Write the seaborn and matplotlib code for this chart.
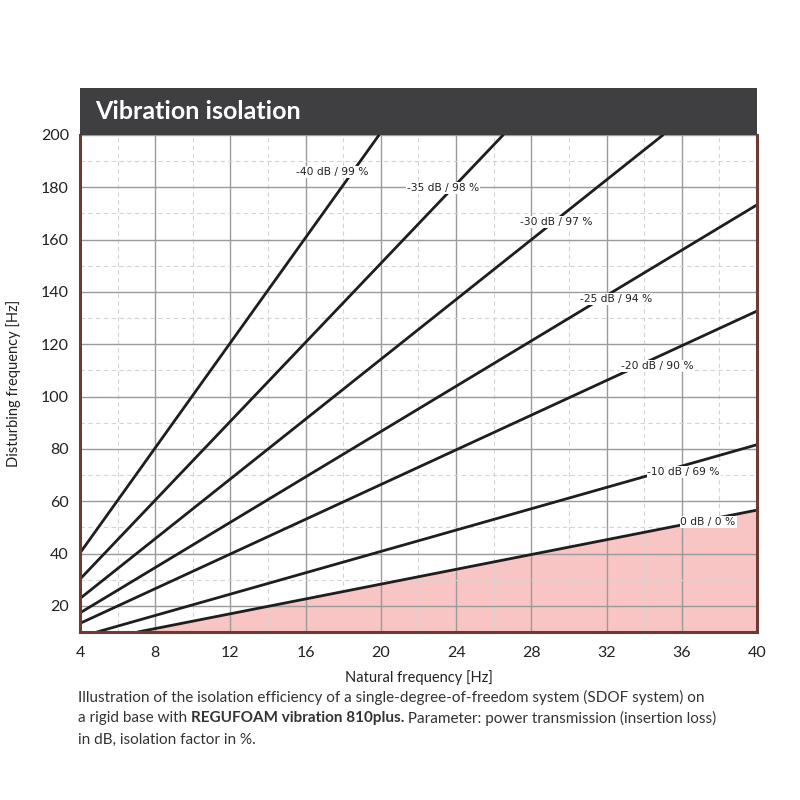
import matplotlib
matplotlib.use("Agg")
import matplotlib.pyplot as plt
import seaborn as sns
import pandas as pd
from matplotlib.patches import Rectangle

# ---- data ----
labels = ["-40 dB / 99 %", "-35 dB / 98 %", "-30 dB / 97 %", "-25 dB / 94 %",
          "-20 dB / 90 %", "-10 dB / 69 %", "0 dB / 0 %"]
nat_start = [4.0, 4.0, 4.0, 4.0, 4.0, 4.9, 7.07]
dist_start = [40.2, 30.2, 22.8, 17.3, 13.3, 10.0, 10.0]
nat_end = [19.9, 26.5, 35.0, 40.0, 40.0, 40.0, 40.0]
dist_end = [200.0, 200.0, 200.0, 173.3, 132.7, 81.6, 56.6]
label_x = [17.4, 23.3, 29.3, 32.5, 34.7, 36.1, 37.4]
label_y = [185.9, 179.7, 166.8, 137.3, 111.7, 71.2, 52.1]

x_ticks = [4, 8, 12, 16, 20, 24, 28, 32, 36, 40]
y_ticks = [20, 40, 60, 80, 100, 120, 140, 160, 180, 200]

rows = []
for lab, x0, y0, x1, y1 in zip(labels, nat_start, dist_start, nat_end, dist_end):
    rows.append({"series": lab, "natural": x0, "disturbing": y0})
    rows.append({"series": lab, "natural": x1, "disturbing": y1})
df = pd.DataFrame(rows)

sns.set_theme(style="white")
plt.rcParams["font.family"] = ["Lato", "DejaVu Sans"]

fig = plt.figure(figsize=(8, 8), dpi=100)
ax = fig.add_axes([0.1, 0.21, 0.84625, 0.62125])

spine_c = "#6d3a34"

# pink region below 0 dB line
zero = df[df["series"] == labels[-1]]
ax.fill_between(zero["natural"], zero["disturbing"], 10, color="#f8c4c4", zorder=1, lw=0)

sns.lineplot(data=df, x="natural", y="disturbing", hue="series",
             palette=["#1e1e1e"] * len(labels), estimator=None, legend=False,
             lw=2.0, ax=ax, zorder=3)

for lab, lx, ly in zip(labels, label_x, label_y):
    ax.text(lx, ly, lab, ha="center", va="center", fontsize=7.7,
            family=["DejaVu Sans"], color="#222222", zorder=4,
            bbox=dict(facecolor="white", edgecolor="none", pad=0.6))

ax.set_xlim(4, 40)
ax.set_ylim(10, 200)
ax.set_xticks(x_ticks)
ax.set_yticks(y_ticks)
ax.set_xticks(list(range(6, 40, 4)), minor=True)
ax.set_yticks(list(range(10, 200, 20)), minor=True)
ax.grid(which="major", color="#9a9a9a", lw=1.0, zorder=2)
ax.grid(which="minor", color="#d4d4d4", lw=0.8, ls=(0, (4, 3)), zorder=2)
ax.set_axisbelow(False)

ax.tick_params(axis="both", which="both", length=0, labelsize=11.5, colors="#222222", pad=8)
ax.tick_params(axis="x", pad=10)
for s in ["left", "bottom", "right"]:
    ax.spines[s].set_color(spine_c)
    ax.spines[s].set_linewidth(2.2)
    ax.spines[s].set_zorder(5)
ax.spines["top"].set_visible(False)

ax.set_xlabel("Natural frequency [Hz]", fontsize=10.5, color="#222222", labelpad=7)
ax.set_ylabel("Disturbing frequency [Hz]", fontsize=10.5, color="#222222", labelpad=14)

# title bar
fig.patches.append(Rectangle((0.1, 0.83125), 0.84625, 0.059, transform=fig.transFigure,
                             facecolor="#3f3f41", edgecolor="none", zorder=0))
fig.text(0.119, 0.861, "Vibration isolation", color="white", fontsize=18,
         fontweight="bold", va="center", ha="left")

# caption
cap_fs = 11.0
fig.text(0.097, 0.128, "Illustration of the isolation efficiency of a single-degree-of-freedom system (SDOF system) on",
         fontsize=cap_fs, color="#333333", va="center")
t1 = fig.text(0.097, 0.102, "a rigid base with ", fontsize=cap_fs, color="#333333", va="center")
fig.canvas.draw()
r = fig.canvas.get_renderer()
bb = t1.get_window_extent(r)
x2 = bb.x1 / fig.bbox.width
t2 = fig.text(x2, 0.102, "REGUFOAM vibration 810plus.", fontsize=cap_fs, color="#333333",
              va="center", fontweight="bold")
bb2 = t2.get_window_extent(r)
x3 = bb2.x1 / fig.bbox.width
fig.text(x3, 0.102, " Parameter: power transmission (insertion loss)", fontsize=cap_fs,
         color="#333333", va="center")
fig.text(0.097, 0.075, "in dB, isolation factor in %.", fontsize=cap_fs, color="#333333", va="center")

fig.savefig("out.png", dpi=100)
